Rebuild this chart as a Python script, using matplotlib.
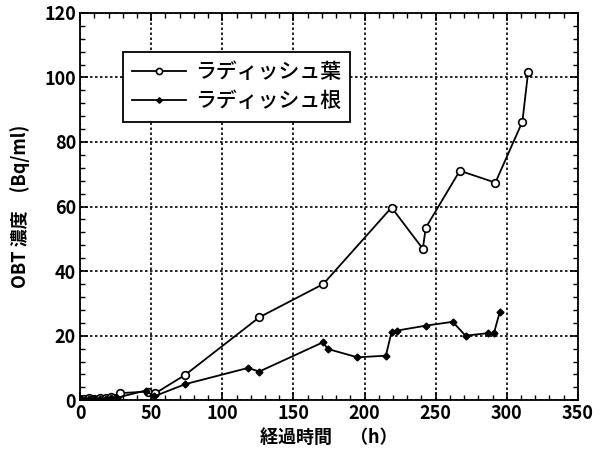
import numpy as np
import matplotlib
matplotlib.use("Agg")
import matplotlib.pyplot as plt
from matplotlib.ticker import MultipleLocator

plt.rcParams['font.family'] = ['Noto Sans CJK JP', 'DejaVu Sans']

# leaf (葉) series: time (h), OBT concentration (Bq/ml)
leaf_t = [0, 3, 6, 10, 14, 18, 22, 28, 48, 53, 74, 126, 171, 219, 241, 243, 267, 292, 311, 315]
leaf_y = [0.5, 0.4, 0.6, 0.5, 0.8, 0.7, 1.0, 2.2, 2.7, 2.2, 7.9, 25.7, 36.0, 59.7, 46.9, 53.4, 71.1, 67.4, 86.3, 101.6]

# root (根) series
root_t = [0, 3, 6, 10, 14, 18, 22, 26, 46, 52, 74, 118, 126, 171, 174, 195, 215, 219, 223, 243, 262, 271, 287, 291, 295]
root_y = [0.3, 0.2, 0.4, 0.3, 0.5, 0.4, 0.6, 0.8, 3.0, 1.2, 5.0, 10.0, 8.9, 18.0, 15.9, 13.3, 13.8, 21.2, 21.6, 23.1, 24.3, 20.0, 20.8, 20.8, 27.2]

fig = plt.figure(figsize=(6.07, 4.59), dpi=100)
ax = fig.add_axes([0.132, 0.128, 0.820, 0.844])

ax.plot(leaf_t, leaf_y, '-', color='black', lw=1.3, marker='o', ms=5.5,
        mfc='white', mec='black', mew=1.2, label='ラディッシュ葉')
ax.plot(root_t, root_y, '-', color='black', lw=1.3, marker='D', ms=3.5,
        mfc='black', mec='black', label='ラディッシュ根')

ax.set_xlim(0, 350)
ax.set_ylim(0, 120)
ax.xaxis.set_major_locator(MultipleLocator(50))
ax.xaxis.set_minor_locator(MultipleLocator(10))
ax.yaxis.set_major_locator(MultipleLocator(20))
ax.yaxis.set_minor_locator(MultipleLocator(4))
ax.tick_params(which='both', direction='in', top=True, right=True)
ax.tick_params(which='major', length=6, width=1.2, labelsize=13, pad=3)
ax.tick_params(which='minor', length=3.5, width=1.0)
for lab in ax.get_xticklabels() + ax.get_yticklabels():
    lab.set_fontweight('bold')
for s in ax.spines.values():
    s.set_linewidth(1.3)

ax.grid(True, which='major', linestyle=(0, (1.5, 1.5)), color='black', lw=1.2)

ax.set_xlabel('経過時間　（h）', fontsize=13, fontweight='bold', labelpad=3)
ax.set_ylabel('OBT 濃度　(Bq/ml)', fontsize=13, fontweight='bold', labelpad=10)

leg = ax.legend(loc='upper left', bbox_to_anchor=(0.086, 0.90), fontsize=15,
                frameon=True, fancybox=False, edgecolor='black', framealpha=1,
                handlelength=2.6, handletextpad=0.4, borderpad=0.45,
                labelspacing=0.35, borderaxespad=0, markerscale=0.8)
leg.get_frame().set_linewidth(1.3)
for t in leg.get_texts():
    t.set_fontweight('medium')

fig.savefig('out.png', dpi=100)
